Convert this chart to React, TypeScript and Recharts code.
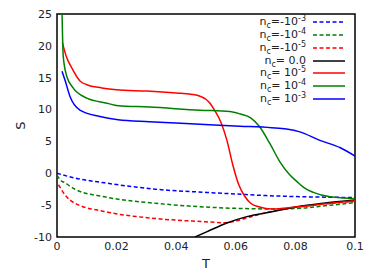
import React from "react";
import { LineChart, Line, XAxis, YAxis, ReferenceArea } from "recharts";

// T values and S values, one pair of arrays per curve
const tNeg3 = [0, 0.006, 0.016, 0.033, 0.05, 0.06, 0.07, 0.08, 0.09, 0.1];
const sNeg3 = [0, -0.75, -1.5, -2.5, -3.0, -3.25, -3.5, -3.65, -3.75, -3.8];

const tNeg4 = [0, 0.001, 0.0027, 0.006, 0.016, 0.033, 0.05, 0.0725, 0.0815, 0.09, 0.1];
const sNeg4 = [-0.3, -1.0, -1.5, -2.5, -3.7, -4.7, -5.3, -5.6, -5.5, -5.1, -4.6];

const tNeg5 = [0.0005, 0.0027, 0.006, 0.016, 0.033, 0.0497, 0.0557, 0.06, 0.0637, 0.07, 0.08, 0.09, 0.1];
const sNeg5 = [-1.8, -3.4, -4.7, -6.0, -7.1, -7.6, -7.75, -7.5, -7.0, -6.2, -5.35, -4.8, -4.4];

const tZero = [0.0463, 0.0502, 0.057, 0.0637, 0.0725, 0.0805, 0.0893, 0.1];
const sZero = [-10, -9.2, -7.8, -6.8, -6.0, -5.25, -4.7, -4.2];

const tPos5 = [0.0018, 0.003, 0.005, 0.0077, 0.01, 0.015, 0.02, 0.03, 0.04, 0.045, 0.048, 0.051, 0.053, 0.055, 0.057, 0.059, 0.061, 0.063, 0.065, 0.068, 0.072, 0.08, 0.09, 0.1];
const sPos5 = [20.5, 18.5, 16.5, 14.5, 13.9, 13.4, 13.1, 12.9, 12.6, 12.4, 12.1, 11.2, 9.8, 8.0, 5.2, 1.3, -1.8, -3.6, -4.7, -5.3, -5.6, -5.3, -4.8, -4.3];

const tPos4 = [0.0017, 0.0021, 0.0033, 0.0054, 0.01, 0.0168, 0.0205, 0.031, 0.048, 0.058, 0.0615, 0.065, 0.068, 0.0715, 0.0748, 0.078, 0.0805, 0.083, 0.086, 0.0916, 0.1];
const sPos4 = [25, 18.3, 15.2, 13.4, 11.8, 11.0, 10.6, 10.4, 9.9, 9.7, 9.3, 8.7, 7.3, 4.6, 1.8, -0.2, -1.3, -2.3, -3.0, -3.7, -4.0];

const tPos3 = [0.0017, 0.0027, 0.0044, 0.0077, 0.0144, 0.0205, 0.031, 0.048, 0.0614, 0.072, 0.077, 0.0815, 0.088, 0.0951, 0.1];
const sPos3 = [16.0, 14.6, 12.0, 9.9, 8.9, 8.4, 8.1, 7.7, 7.4, 7.15, 6.95, 6.5, 5.2, 4.0, 2.7];

const xTicks = [0, 0.02, 0.04, 0.06, 0.08, 0.1];
const yTicks = [-10, -5, 0, 5, 10, 15, 20, 25];

const zip = (t: number[], s: number[]) => t.map((v, i) => ({ t: v, s: s[i] }));

const series = [
  { id: "neg3", sign: "-", exp: "-3", color: "#0000ff", dashed: true, data: zip(tNeg3, sNeg3) },
  { id: "neg4", sign: "-", exp: "-4", color: "#007f00", dashed: true, data: zip(tNeg4, sNeg4) },
  { id: "neg5", sign: "-", exp: "-5", color: "#ff0000", dashed: true, data: zip(tNeg5, sNeg5) },
  { id: "zero", sign: " ", exp: null, color: "#000000", dashed: false, data: zip(tZero, sZero) },
  { id: "pos5", sign: " ", exp: "-5", color: "#ff0000", dashed: false, data: zip(tPos5, sPos5) },
  { id: "pos4", sign: " ", exp: "-4", color: "#007f00", dashed: false, data: zip(tPos4, sPos4) },
  { id: "pos3", sign: " ", exp: "-3", color: "#0000ff", dashed: false, data: zip(tPos3, sPos3) },
];

const font = "'DejaVu Sans', sans-serif";
const DASH = "4 2.5";
const small = { fontSize: 8, position: "relative" as const };

const LegendBox = () => (
  <div style={{ position: "absolute", top: 16, right: 29, fontFamily: font, fontSize: 11, color: "#222" }}>
    {series.map((s) => (
      <div key={s.id} style={{ display: "flex", alignItems: "center", justifyContent: "flex-end", height: 12.77, overflow: "visible" }}>
        <span style={{ whiteSpace: "pre", lineHeight: "12px", height: 12 }}>
          n<span style={{ ...small, top: 3 }}>c</span>
          {s.exp === null ? "= 0.0" : `=${s.sign === "-" ? "-" : " "}10`}
          {s.exp !== null && <span style={{ ...small, top: -4 }}>{s.exp}</span>}
        </span>
        <svg width={32} height={4} style={{ marginLeft: 7 }}>
          <line x1={0} y1={2} x2={32} y2={2} stroke={s.color} strokeWidth={1.5} strokeDasharray={s.dashed ? DASH : undefined} />
        </svg>
      </div>
    ))}
  </div>
);

const YLabel = (props: any) => {
  const vb = props.viewBox;
  const cx = vb.x + 20;
  const cy = vb.y + vb.height / 2;
  return (
    <text x={cx} y={cy} transform={`rotate(-90 ${cx} ${cy})`} textAnchor="middle" dominantBaseline="central" fontFamily={font} fontSize={13} fill="#222">
      S
    </text>
  );
};

export default function App() {
  return (
    <div style={{ position: "absolute", left: 0, top: 0, width: 374, height: 280 }}>
      <LineChart width={374} height={280} margin={{ top: 14, right: 19, left: 0, bottom: 0 }}>
        <XAxis
          dataKey="t"
          type="number"
          domain={[0, 0.1]}
          ticks={xTicks}
          tickFormatter={(v: number) => String(v)}
          height={43}
          axisLine={false}
          tickLine={false}
          tickSize={3}
          tickMargin={2}
          tick={{ fontFamily: font, fontSize: 11, fill: "#222" }}
          label={{ value: "T", position: "insideBottom", offset: 12, fontFamily: font, fontSize: 13, fill: "#222" }}
        />
        <YAxis
          type="number"
          domain={[-10, 25]}
          ticks={yTicks}
          allowDataOverflow
          width={57}
          axisLine={false}
          tickLine={false}
          tickSize={3}
          tickMargin={2}
          tick={{ fontFamily: font, fontSize: 11, fill: "#222" }}
          label={<YLabel />}
        />
        <ReferenceArea x1={0} x2={0.1} y1={-10} y2={25} fill="none" stroke="#000" strokeWidth={1.5} fillOpacity={0} />
        {series.map((s) => (
          <Line
            key={s.id}
            data={s.data}
            dataKey="s"
            type="monotone"
            stroke={s.color}
            strokeWidth={1.5}
            strokeDasharray={s.dashed ? DASH : undefined}
            dot={false}
            activeDot={false}
            isAnimationActive={false}
          />
        ))}
      </LineChart>
      <LegendBox />
    </div>
  );
}
